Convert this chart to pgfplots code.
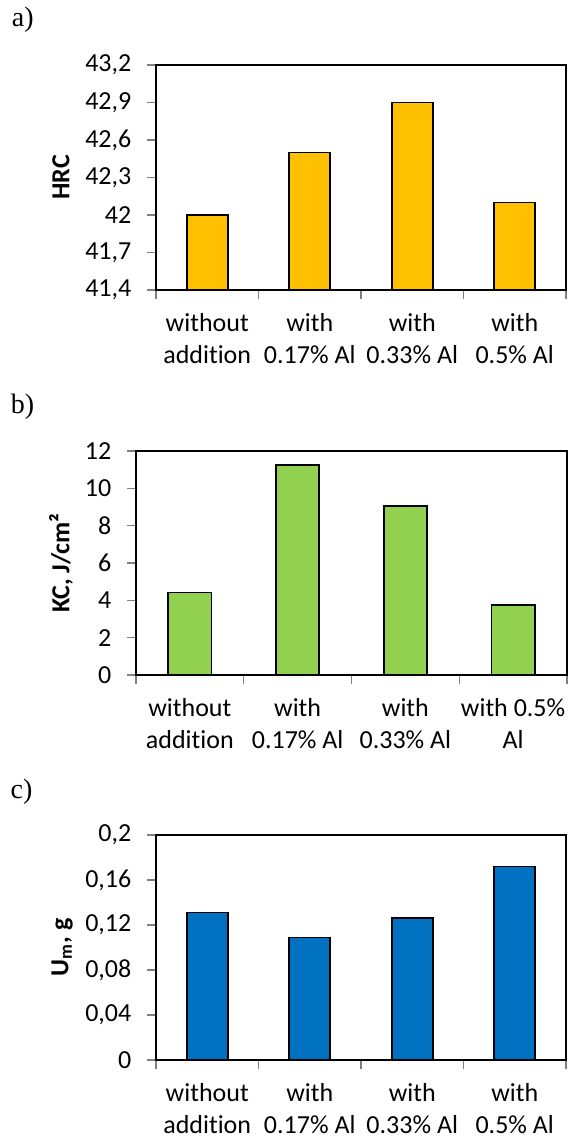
\documentclass[border=0pt]{standalone}
\usepackage{pgfplots}
\pgfplotsset{compat=1.18}
\usepackage{fontspec}
\setmainfont[Ligatures={NoCommon,NoRequired,NoContextual}]{Carlito}
\newfontfamily\seriffont{Liberation Serif}
\definecolor{cA}{HTML}{FFC000}
\definecolor{cB}{HTML}{92D050}
\definecolor{cC}{HTML}{0070C0}
\pgfplotsset{
  mybar/.style={
    scale only axis, ybar, xmin=0.5, xmax=4.5, clip=false,
    xtick={0.5,1.5,2.5,3.5,4.5}, x tick label as interval,
    tick pos=left,
    xticklabel style={align=center, font=\fontsize{13}{15.8}\selectfont, yshift=-4pt},
    yticklabel style={font=\fontsize{13}{15}\selectfont, xshift=-4.5pt},
    tick align=outside, major tick length=4.3pt,
    tick style={color=gray, line width=0.6pt},
    axis line style={black, line width=0.7pt},
    scaled y ticks=false,
    /pgf/number format/use comma,
    /pgf/number format/fixed,
    /pgf/number format/precision=2,
    /pgf/number format/assume math mode=true,
    every axis y label/.style={rotate=90, anchor=center, font=\fontsize{13}{15}\selectfont\bfseries},
  }
}
\begin{document}
\begin{tikzpicture}
\useasboundingbox (0,0) rectangle (284pt,569pt);
% panel a
\begin{axis}[mybar, width=205pt, height=112.5pt, at={(78pt,424pt)}, anchor=south west,
  bar width=20.5pt, ymin=41.4, ymax=43.2, ytick={41.4,41.7,42,42.3,42.6,42.9,43.2},
  xticklabels={{without\\addition},{with\\0.17\% Al},{with\\0.33\% Al},{with\\0.5\% Al}},
  ylabel={HRC},
  every axis y label/.append style={at={(axis description cs:-0.232,0.5)}}]
\addplot[fill=cA, draw=black, line width=0.8pt] coordinates {(1,42.0) (2,42.5) (3,42.9) (4,42.1)};
\node[font=\fontsize{14}{16}\seriffont] at (axis description cs:-0.325,1.2) {a)};
\end{axis}
% panel b
\begin{axis}[mybar, width=215.5pt, height=112pt, at={(68pt,231.5pt)}, anchor=south west,
  bar width=21.6pt, ymin=0, ymax=12, ytick={0,2,4,6,8,10,12},
  xticklabels={{without\\addition},{with\\0.17\% Al},{with\\0.33\% Al},{with 0.5\%\\Al}},
  ylabel={KC, J/cm²},
  every axis y label/.append style={at={(axis description cs:-0.174,0.5)}}]
\addplot[fill=cB, draw=black, line width=0.8pt] coordinates {(1,4.42) (2,11.25) (3,9.05) (4,3.75)};
\node[font=\fontsize{14}{16}\seriffont] at (axis description cs:-0.263,1.196) {b)};
\end{axis}
% panel c
\begin{axis}[mybar, width=205pt, height=112.5pt, at={(78pt,39pt)}, anchor=south west,
  bar width=20.5pt, ymin=0, ymax=0.2, ytick={0,0.04,0.08,0.12,0.16,0.2},
  xticklabels={{without\\addition},{with\\0.17\% Al},{with\\0.33\% Al},{with\\0.5\% Al}},
  ylabel={U\textsubscript{m}, g},
  every axis y label/.append style={at={(axis description cs:-0.229,0.5)}}]
\addplot[fill=cC, draw=black, line width=0.8pt] coordinates {(1,0.131) (2,0.109) (3,0.126) (4,0.172)};
\node[font=\fontsize{14}{16}\seriffont] at (axis description cs:-0.328,1.191) {c)};
\end{axis}
\end{tikzpicture}
\end{document}
